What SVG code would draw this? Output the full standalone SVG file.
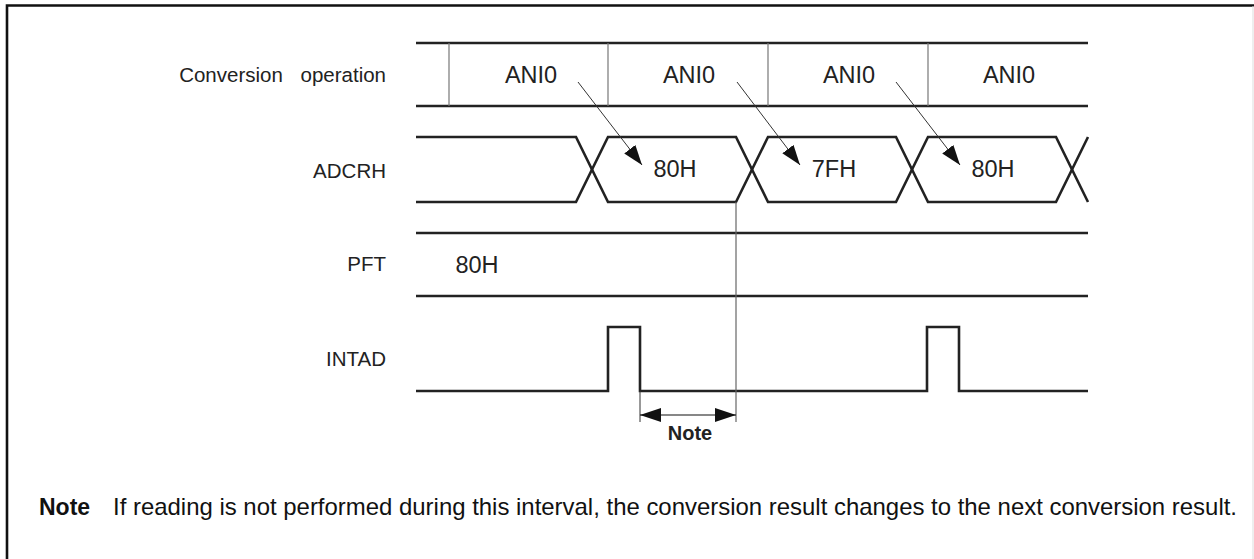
<svg xmlns="http://www.w3.org/2000/svg" width="1254" height="559" viewBox="0 0 1254 559">
<style>
.sig{fill:none;stroke:#222;stroke-width:2.6;stroke-linejoin:miter}
.div{stroke:#777;stroke-width:1.2}
.thin{fill:none;stroke:#333;stroke-width:1}
.lbl{font-family:"Liberation Sans",Arial,sans-serif;font-size:20.5px;fill:#222;text-anchor:end}
.val{font-family:"Liberation Sans",Arial,sans-serif;font-size:23.5px;fill:#222;text-anchor:middle}
.note{font-family:"Liberation Sans",Arial,sans-serif;font-size:24px;fill:#111}
</style>
<defs>
<marker id="ah" markerWidth="20" markerHeight="14" refX="20" refY="7" orient="auto" markerUnits="userSpaceOnUse">
<path d="M0,0 L20,7 L0,14 Z" fill="#111"/>
</marker>
<marker id="dh" markerWidth="21" markerHeight="14" refX="21" refY="7" orient="auto-start-reverse" markerUnits="userSpaceOnUse">
<path d="M0,0 L21,7 L0,14 Z" fill="#111"/>
</marker>
</defs>
<rect width="1254" height="559" fill="#fff"/>
<g id="frame">
<path d="M7,559 V5.5 H1254" fill="none" stroke="#111" stroke-width="2.6"/>
<line x1="1253" y1="6" x2="1253" y2="559" stroke="#ddd" stroke-width="1"/>
</g>
<g id="conversion">
<text class="lbl" x="386" y="82" style="word-spacing:12px">Conversion operation</text>
<line class="sig" x1="416" y1="43" x2="1088" y2="43"/>
<line class="sig" x1="416" y1="106" x2="1088" y2="106"/>
<line class="div" x1="449" y1="43" x2="449" y2="106"/>
<line class="div" x1="608" y1="43" x2="608" y2="106"/>
<line class="div" x1="768" y1="43" x2="768" y2="106"/>
<line class="div" x1="928" y1="43" x2="928" y2="106"/>
<text class="val" x="531" y="83">ANI0</text>
<text class="val" x="689" y="83">ANI0</text>
<text class="val" x="849" y="83">ANI0</text>
<text class="val" x="1009" y="83">ANI0</text>
</g>
<g id="adcrh">
<text class="lbl" x="386" y="178">ADCRH</text>
<path class="sig" d="M416,137 H576 L608,202 H736 L768,137 H896 L928,202 H1056 L1088,137"/>
<path class="sig" d="M416,202 H576 L608,137 H736 L768,202 H896 L928,137 H1056 L1088,202"/>
<text class="val" x="675" y="177">80H</text>
<text class="val" x="834" y="177">7FH</text>
<text class="val" x="993" y="177">80H</text>
</g>
<g id="pft">
<text class="lbl" x="386" y="271">PFT</text>
<line class="sig" x1="416" y1="233" x2="1088" y2="233"/>
<line class="sig" x1="416" y1="296" x2="1088" y2="296"/>
<text class="val" x="477" y="273">80H</text>
</g>
<g id="intad">
<text class="lbl" x="386" y="366">INTAD</text>
<path class="sig" d="M416,391 H608 V327 H640 V391 H927 V327 H959 V391 H1088"/>
</g>
<g id="connectors">
<line class="thin" x1="578" y1="82" x2="642" y2="165" marker-end="url(#ah)"/>
<line class="thin" x1="737" y1="82" x2="800" y2="165" marker-end="url(#ah)"/>
<line class="thin" x1="896" y1="82" x2="960" y2="165" marker-end="url(#ah)"/>
<line x1="736" y1="202" x2="736" y2="422" stroke="#666" stroke-width="1.2"/>
<line x1="640" y1="391" x2="640" y2="422" stroke="#333" stroke-width="1"/>
<line x1="640" y1="415" x2="736" y2="415" stroke="#111" stroke-width="1.2" marker-start="url(#dh)" marker-end="url(#dh)"/>
<text x="690" y="440" font-family="'Liberation Sans',Arial,sans-serif" font-size="20" font-weight="bold" fill="#222" text-anchor="middle">Note</text>
</g>
<g id="footnote">
<text class="note" x="39" y="515"><tspan font-weight="bold" font-size="23">Note</tspan><tspan x="113" textLength="1124" lengthAdjust="spacingAndGlyphs">If reading is not performed during this interval, the conversion result changes to the next conversion result.</tspan></text>
</g>
</svg>
